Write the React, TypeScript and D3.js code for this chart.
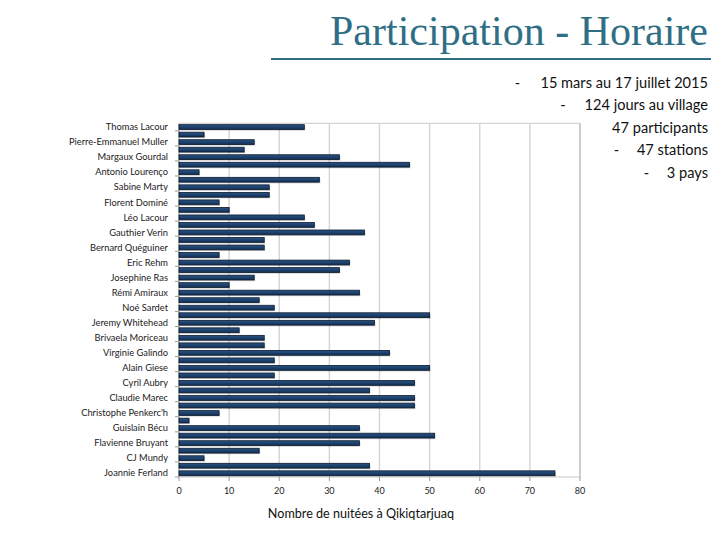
import React from "react";
import * as d3 from "d3";

// Categories top -> bottom (hidden labels for every other bar)
const labels: string[] = [
  "Thomas Lacour", "", "Pierre-Emmanuel Muller", "", "Margaux Gourdal", "",
  "Antonio Lourenço", "", "Sabine Marty", "", "Florent Dominé", "",
  "Léo Lacour", "", "Gauthier Verin", "", "Bernard Quéguiner", "",
  "Eric Rehm", "", "Josephine Ras", "", "Rémi Amiraux", "",
  "Noé Sardet", "", "Jeremy Whitehead", "", "Brivaela Moriceau", "",
  "Virginie Galindo", "", "Alain Giese", "", "Cyril Aubry", "",
  "Claudie Marec", "", "Christophe Penkerc'h", "", "Guislain Bécu", "",
  "Flavienne Bruyant", "", "CJ Mundy", "", "Joannie Ferland",
];

const nights: number[] = [
  25, 5, 15, 13, 32, 46, 4, 28, 18, 18, 8, 10,
  25, 27, 37, 17, 17, 8, 34, 32, 15, 10, 36, 16,
  19, 50, 39, 12, 17, 17, 42, 19, 50, 19, 47, 38,
  47, 47, 8, 2, 36, 51, 36, 16, 5, 38, 75,
];

const xTicks: number[] = [0, 10, 20, 30, 40, 50, 60, 70, 80];

const infoLines: { text: string; dash: boolean }[] = [
  { text: "15 mars au 17 juillet 2015", dash: true },
  { text: "124 jours au village", dash: true },
  { text: "47 participants", dash: false },
  { text: "47 stations", dash: true },
  { text: "3 pays", dash: true },
];

export default function App() {
  const W = 720, H = 540;
  const left = 179, right = 580, top = 123.3, bottom = 477;
  const x = d3.scaleLinear().domain([0, 80]).range([left, right]);
  const y = d3
    .scaleBand<number>()
    .domain(d3.range(labels.length))
    .range([top, bottom])
    .paddingInner(0.36)
    .paddingOuter(0.18);
  const step = y.step();

  const infoY = [88, 110, 132.7, 155, 177.7];
  const dashX = [517.5, 563, 0, 616.5, 646.5];

  return (
    <svg
      width={W}
      height={H}
      style={{ position: "absolute", left: 0, top: 0, background: "#fff" }}
      fontFamily="Lato, 'Open Sans', sans-serif"
    >
      <defs>
        <linearGradient id="barGrad" x1="0" y1="0" x2="0" y2="1">
          <stop offset="0" stopColor="#2a5384" />
          <stop offset="0.5" stopColor="#1d426e" />
          <stop offset="1" stopColor="#142f52" />
        </linearGradient>
      </defs>
      {/* Title */}
      <text
        x={708}
        y={45}
        textAnchor="end"
        fontFamily="'Liberation Serif', 'DejaVu Serif', serif"
        fontSize={42}
        fill="#2f6f85"
        textLength={378}
        lengthAdjust="spacingAndGlyphs"
      >
        Participation - Horaire
      </text>
      <line x1={271} x2={711} y1={59} y2={59} stroke="#2f6f85" strokeWidth={2.2} />

      {/* Info block */}
      {infoLines.map((l, i) => (
        <g key={i}>
          <text x={708} y={infoY[i]} textAnchor="end" fontSize={14.6} fill="#111">
            {l.text}
          </text>
          {l.dash && (
            <text x={dashX[i]} y={infoY[i]} textAnchor="middle" fontSize={14.6} fill="#111">
              -
            </text>
          )}
        </g>
      ))}

      {/* Gridlines */}
      {xTicks.map((t) => (
        <line
          key={"g" + t}
          x1={x(t)}
          x2={x(t)}
          y1={top}
          y2={bottom}
          stroke={t === 0 ? "#888" : "#d4d4d4"}
          strokeWidth={t === 0 ? 1 : 1.4}
        />
      ))}
      <line x1={left} x2={right} y1={top} y2={top} stroke="#d4d4d4" strokeWidth={1.2} />
      <line x1={left} x2={right} y1={bottom} y2={bottom} stroke="#c8c8c8" strokeWidth={1.2} />
      <line x1={right} x2={right} y1={top} y2={bottom} stroke="#c4c4c4" strokeWidth={1.4} />

      {/* x ticks */}
      {xTicks.map((t) => (
        <g key={"t" + t}>
          <line x1={x(t)} x2={x(t)} y1={bottom} y2={bottom + 4} stroke="#999" />
          <text x={x(t)} y={494} textAnchor="middle" fontSize={9} fill="#222">
            {t}
          </text>
        </g>
      ))}
      <text x={361} y={518} textAnchor="middle" fontSize={12.6} fill="#111">
        Nombre de nuitées à Qikiqtarjuaq
      </text>

      {labels.map((lab, i) =>
        lab ? (
          <g key={"l" + i}>
            <line
              x1={left - 4}
              x2={left}
              y1={(y(i) as number) + y.bandwidth() / 2 + step / 2}
              y2={(y(i) as number) + y.bandwidth() / 2 + step / 2}
              stroke="#999"
            />
            <text
              x={168}
              y={(y(i) as number) + y.bandwidth() / 2 + 3.2}
              textAnchor="end"
              fontSize={9.3}
              fill="#222"
            >
              {lab}
            </text>
          </g>
        ) : null
      )}

      {/* Bars */}
      {nights.map((v, i) => (
        <g key={"b" + i}>
          <rect
            x={x(0) + 1}
            y={(y(i) as number) + 1.2}
            width={x(v) - x(0)}
            height={y.bandwidth()}
            fill="#000"
            opacity={0.18}
          />
          <rect
            x={x(0)}
            y={y(i) as number}
            width={x(v) - x(0)}
            height={y.bandwidth()}
            fill="url(#barGrad)"
            stroke="#0b1a2c"
            strokeWidth={0.8}
          />
        </g>
      ))}
    </svg>
  );
}
